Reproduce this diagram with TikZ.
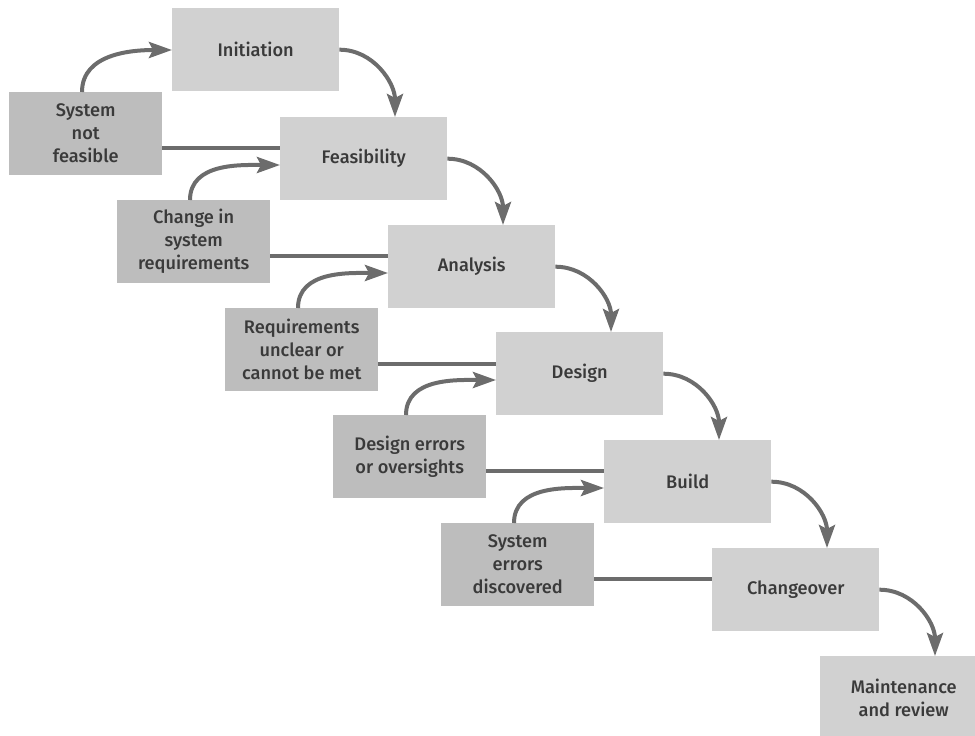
\documentclass[tikz,border=0pt]{standalone}
\usepackage{fontspec}
\setmainfont{Fira Sans}[UprightFont=* Medium]
\usetikzlibrary{arrows.meta,calc}
\definecolor{mainfill}{HTML}{D1D1D1}
\definecolor{sidefill}{HTML}{BDBDBD}
\definecolor{linecol}{HTML}{6C6C6C}
\definecolor{txt}{HTML}{3A3A3A}
\begin{document}
\begin{tikzpicture}[x=1pt,y=-1pt,
  boxbase/.style={anchor=north west, minimum height=83pt, inner sep=0pt, align=center, text=txt, font=\fontsize{18.2}{23}\selectfont},
  mainbox/.style={boxbase, fill=mainfill, minimum width=167pt},
  sidebox/.style={boxbase, fill=sidefill, minimum width=153pt},
  flow/.style={draw=linecol, line width=4pt, -{Stealth[length=23pt,width=16pt,inset=4pt]}},
  fbline/.style={draw=linecol, line width=4pt}]
\useasboundingbox (0,0) rectangle (975,736);
% main stages
\node[mainbox] (m0) at (172,8) {Initiation};
\node[mainbox] (m1) at (280,117) {Feasibility};
\node[mainbox] (m2) at (388,225) {Analysis};
\node[mainbox] (m3) at (496,332) {Design};
\node[mainbox] (m4) at (604,440) {Build};
\node[mainbox] (m5) at (712,548) {Changeover};
\node[mainbox] (m6) at (820,656) {Maintenance\\and review};
% side boxes
\node[sidebox] (s0) at (9,92) {System\\not\\feasible};
\node[sidebox] (s1) at (117,200) {Change in\\system\\requirements};
\node[sidebox] (s2) at (225,308) {Requirements\\unclear or\\cannot be met};
\node[sidebox] (s3) at (333,415) {Design errors\\or oversights};
\node[sidebox] (s4) at (441,523) {System\\errors\\discovered};
% forward arrows
\foreach \a/\b in {m0/m1,m1/m2,m2/m3,m3/m4,m4/m5,m5/m6}{
  \draw[flow] (\a.east) to[out=0,in=90] ($(\b.north west)+(115,0)$);
}
% feedback lines
\foreach \s/\m in {s0/m1,s1/m2,s2/m3,s3/m4,s4/m5}{
  \coordinate (f\s) at ($(\s.north east)+(0,56)$);
  \draw[fbline] (f\s) -- (f\s -| \m.west);
}
% feedback arrows
\draw[flow] ($(s0.north west)+(73,0)$) to[out=90,in=180] ($(m0.north west)+(0,42)$);
\foreach \s/\m in {s1/m1,s2/m2,s3/m3,s4/m4}{
  \draw[flow] ($(\s.north west)+(73,0)$) to[out=90,in=180] ($(\m.north west)+(0,48)$);
}
\end{tikzpicture}
\end{document}
